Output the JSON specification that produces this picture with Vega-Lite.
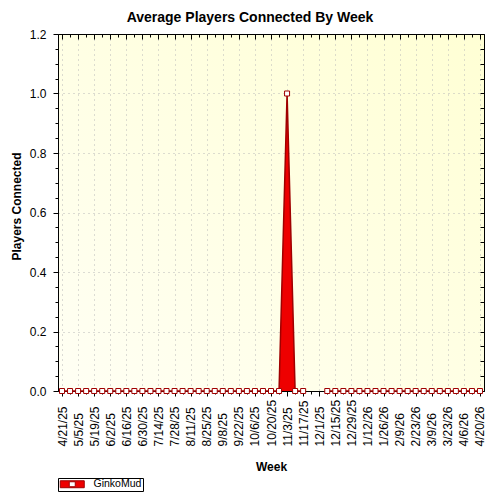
{
  "$schema": "https://vega.github.io/schema/vega-lite/v6.json",
  "width": 426,
  "height": 357,
  "autosize": {"type": "none"},
  "padding": {"left": 58, "top": 34, "right": 16, "bottom": 109},
  "background": "white",
  "params": [
    {"name": "L", "value": ["4/21/25","5/5/25","5/19/25","6/2/25","6/16/25","6/30/25","7/14/25","7/28/25","8/11/25","8/25/25","9/8/25","9/22/25","10/6/25","10/20/25","11/3/25","11/17/25","12/1/25","12/15/25","12/29/25","1/12/26","1/26/26","2/9/26","2/23/26","3/9/26","3/23/26","4/6/26","4/20/26"]}
  ],
  "title": {
    "text": "Average Players Connected By Week",
    "font": "Liberation Sans",
    "fontSize": 14,
    "fontWeight": "bold",
    "color": "black",
    "anchor": "middle",
    "offset": 3,
    "dx": -21
  },
  "config": {
    "view": {
      "stroke": "black",
      "strokeWidth": 1,
      "fill": {"gradient": "linear", "x1": 0, "y1": 1, "x2": 1, "y2": 0, "stops": [{"offset": 0, "color": "#fffff4"}, {"offset": 1, "color": "#ffffd4"}]}
    },
    "axis": {
      "domainColor": "black",
      "tickColor": "black",
      "labelColor": "black",
      "titleColor": "black",
      "labelFont": "Liberation Sans",
      "titleFont": "Liberation Sans"
    }
  },
  "data": {
    "values": [
      {"week": "4/21/25", "players": 0},
      {"week": "4/28/25", "players": 0},
      {"week": "5/5/25", "players": 0},
      {"week": "5/12/25", "players": 0},
      {"week": "5/19/25", "players": 0},
      {"week": "5/26/25", "players": 0},
      {"week": "6/2/25", "players": 0},
      {"week": "6/9/25", "players": 0},
      {"week": "6/16/25", "players": 0},
      {"week": "6/23/25", "players": 0},
      {"week": "6/30/25", "players": 0},
      {"week": "7/7/25", "players": 0},
      {"week": "7/14/25", "players": 0},
      {"week": "7/21/25", "players": 0},
      {"week": "7/28/25", "players": 0},
      {"week": "8/4/25", "players": 0},
      {"week": "8/11/25", "players": 0},
      {"week": "8/18/25", "players": 0},
      {"week": "8/25/25", "players": 0},
      {"week": "9/1/25", "players": 0},
      {"week": "9/8/25", "players": 0},
      {"week": "9/15/25", "players": 0},
      {"week": "9/22/25", "players": 0},
      {"week": "9/29/25", "players": 0},
      {"week": "10/6/25", "players": 0},
      {"week": "10/13/25", "players": 0},
      {"week": "10/20/25", "players": 0},
      {"week": "10/27/25", "players": 0},
      {"week": "11/3/25", "players": 1},
      {"week": "11/10/25", "players": 0},
      {"week": "11/17/25", "players": 0},
      {"week": "11/24/25", "players": null},
      {"week": "12/1/25", "players": null},
      {"week": "12/8/25", "players": 0},
      {"week": "12/15/25", "players": 0},
      {"week": "12/22/25", "players": 0},
      {"week": "12/29/25", "players": 0},
      {"week": "1/5/26", "players": 0},
      {"week": "1/12/26", "players": 0},
      {"week": "1/19/26", "players": 0},
      {"week": "1/26/26", "players": 0},
      {"week": "2/2/26", "players": 0},
      {"week": "2/9/26", "players": 0},
      {"week": "2/16/26", "players": 0},
      {"week": "2/23/26", "players": 0},
      {"week": "3/2/26", "players": 0},
      {"week": "3/9/26", "players": 0},
      {"week": "3/16/26", "players": 0},
      {"week": "3/23/26", "players": 0},
      {"week": "3/30/26", "players": 0},
      {"week": "4/6/26", "players": 0},
      {"week": "4/13/26", "players": 0},
      {"week": "4/20/26", "players": 0}
    ]
  },
  "layer": [
    {
      "mark": {"type": "area", "color": "#ee0000", "opacity": 1, "invalid": "break-paths-show-domains"},
      "encoding": {
        "x": {
          "field": "week", "type": "ordinal", "sort": null,
          "scale": {"type": "point", "padding": 0.5},
          "axis": {
            "orient": "bottom",
            "title": "Week",
            "titleFontSize": 12,
            "titleFontWeight": "bold",
            "titleX": 213,
            "titleY": 75,
            "titleAlign": "center",
            "titleBaseline": "middle",
            "labelAngle": 270,
            "labelAlign": "left",
            "labelBaseline": "middle",
            "labelPadding": 50,
            "labelFontSize": 12,
            "labelOverlap": false,
            "labelBound": false,
            "labelExpr": "indexof(L, datum.value) >= 0 ? datum.label : ''",
            "tickSize": {"condition": {"test": "indexof(L, datum.value) >= 0", "value": 5}, "value": 3},
            "grid": true,
            "gridColor": "#b8b8b8",
            "gridDash": [1, 4],
            "gridOpacity": {"condition": {"test": "indexof(L, datum.value) >= 0", "value": 1}, "value": 0}
          }
        },
        "y": {
          "field": "players", "type": "quantitative",
          "scale": {"domain": [0, 1.2], "nice": false, "zero": true},
          "axis": {
            "orient": "left",
            "title": "Players Connected",
            "titleFontSize": 12,
            "titleFontWeight": "bold",
            "titleAngle": 270,
            "titleX": -42,
            "titleY": 172,
            "titleAlign": "center",
            "titleBaseline": "middle",
            "values": [0, 0.05, 0.1, 0.15, 0.2, 0.25, 0.3, 0.35, 0.4, 0.45, 0.5, 0.55, 0.6, 0.65, 0.7, 0.75, 0.8, 0.85, 0.9, 0.95, 1.0, 1.05, 1.1, 1.15, 1.2],
            "labelExpr": "abs(datum.value*5 - round(datum.value*5)) < 0.001 ? format(datum.value, '.1f') : ''",
            "labelFontSize": 12,
            "labelPadding": 7,
            "labelOverlap": false,
            "tickSize": {"condition": {"test": "abs(datum.value*5 - round(datum.value*5)) < 0.001", "value": 5}, "value": 3},
            "grid": true,
            "gridColor": "#b8b8b8",
            "gridDash": [1, 4],
            "gridOpacity": {"condition": {"test": "abs(datum.value*5 - round(datum.value*5)) < 0.001", "value": 1}, "value": 0}
          }
        }
      }
    },
    {
      "mark": {"type": "line", "strokeWidth": 1.5, "invalid": "break-paths-show-domains"},
      "encoding": {
        "x": {"field": "week", "type": "ordinal", "sort": null, "axis": null},
        "y": {"field": "players", "type": "quantitative", "axis": null},
        "color": {
          "datum": "GinkoMud",
          "scale": {"range": ["#a00000"]},
          "legend": {
            "orient": "none",
            "legendX": 0,
            "legendY": 444,
            "title": null,
            "symbolType": "M-1,-0.87L5,-0.87L5,0.87L-1,0.87ZM1.25,-0.62L1.25,0.62L2.75,0.62L2.75,-0.62Z",
            "symbolSize": 64,
            "strokeColor": "black",
            "fillColor": "white",
            "padding": 1,
            "labelFont": "Liberation Sans",
            "labelFontSize": 10.5,
            "labelColor": "black",
            "labelOffset": 24,
            "labelLimit": 200,
            "labelExpr": "datum.label + '\u00a0\u00a0\u00a0'",
            "encode": {
              "symbols": {
                "update": {
                  "fill": {"value": "#ee0000"},
                  "stroke": {"value": "#a00000"},
                  "strokeWidth": {"value": 1},
                  "opacity": {"value": 1}
                }
              }
            }
          }
        }
      }
    },
    {
      "mark": {"type": "point", "shape": "square", "filled": true, "fill": "white", "stroke": "#a00000", "strokeWidth": 1, "size": 25, "opacity": 1},
      "encoding": {
        "x": {
          "field": "week", "type": "ordinal", "sort": null,
          "axis": {
            "orient": "top",
            "title": null,
            "labels": false,
            "grid": false,
            "tickSize": {"condition": {"test": "indexof(L, datum.value) >= 0", "value": -5}, "value": -3}
          }
        },
        "y": {
          "field": "players", "type": "quantitative",
          "axis": {
            "orient": "right",
            "title": null,
            "labels": false,
            "grid": false,
            "values": [0, 0.05, 0.1, 0.15, 0.2, 0.25, 0.3, 0.35, 0.4, 0.45, 0.5, 0.55, 0.6, 0.65, 0.7, 0.75, 0.8, 0.85, 0.9, 0.95, 1.0, 1.05, 1.1, 1.15, 1.2],
            "tickSize": -4
          }
        }
      }
    }
  ],
  "resolve": {"axis": {"x": "independent", "y": "independent"}}
}
